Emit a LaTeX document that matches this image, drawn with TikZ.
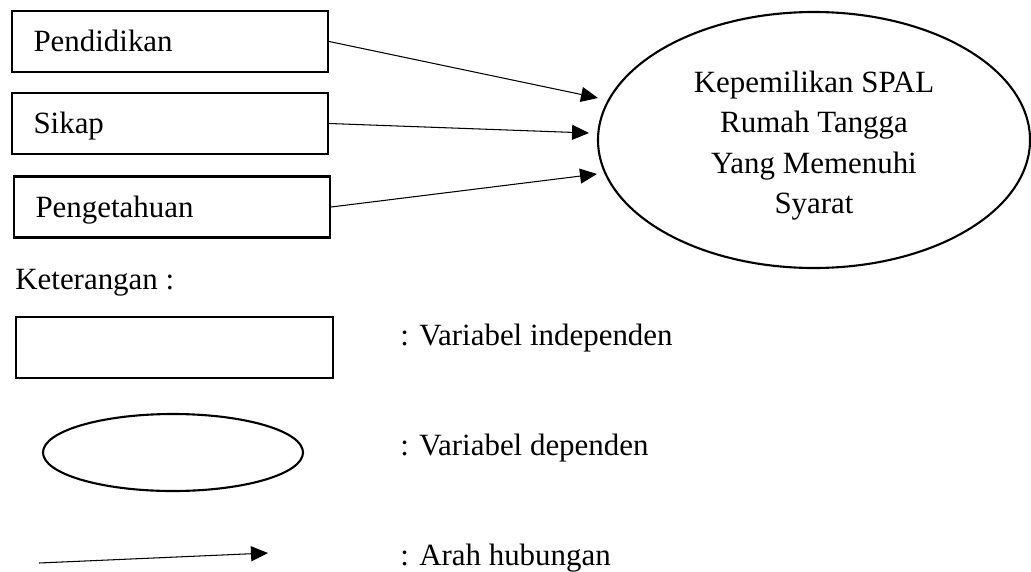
\documentclass[tikz,border=0pt]{standalone}
\usepackage{fontspec}
\setmainfont{Liberation Serif}
\usetikzlibrary{arrows.meta,shapes.geometric}

\begin{document}
\begin{tikzpicture}[
  font=\fontsize{17.6}{22.8}\selectfont,
  varbox/.style={draw,line width=1.3pt,rectangle,minimum width=6.32cm,minimum height=1.22cm,
    inner xsep=0.43cm,text width=5.46cm,align=left,text height=0.45cm,text depth=0.05cm},
  depell/.style={draw,line width=1.2pt,ellipse,inner sep=0pt,align=center},
  hub/.style={-{Triangle[length=0.34cm,width=0.3cm]},line width=0.6pt},
  ket/.style={anchor=base west,inner sep=0pt}]

  \useasboundingbox (0,0) rectangle (20.62,11.42);

  \node[varbox] (pend) at (3.40,10.59) {Pendidikan};
  \node[varbox] (sikap) at (3.40,8.95) {Sikap};
  \node[varbox] (peng) at (3.44,7.28) {Pengetahuan};

  \node[depell,minimum width=8.64cm,minimum height=5.12cm] (spal) at (16.28,8.62)
    {\raisebox{-0.1cm}[\height][\depth]{\begin{tabular}{@{}c@{}}Kepemilikan SPAL\\Rumah Tangga\\Yang Memenuhi\\Syarat\end{tabular}}};

  \coordinate (t1) at (11.96,9.46);
  \coordinate (t2) at (11.78,8.76);
  \coordinate (t3) at (11.94,7.94);

  \draw[hub] (pend.east) -- (t1);
  \draw[hub] (sikap.east) -- (t2);
  \draw[hub] (peng.east) -- (t3);

  % keterangan
  \node[ket] (ket) at (0.30,5.64) {Keterangan :};

  \node[varbox,minimum width=6.34cm] (lbox) at (3.49,4.47) {};
  \node[depell,minimum width=5.2cm,minimum height=1.54cm] (lell) at (3.46,2.37) {};
  \coordinate (la) at (0.78,0.16);
  \coordinate (lb) at (5.36,0.36);
  \draw[hub] (la) -- (lb);

  \node[ket] (kbox) at (8.0,4.52) {: Variabel independen};
  \node[ket] (kell) at (8.0,2.32) {: Variabel dependen};
  \node[ket] (karr) at (8.0,0.12) {: Arah hubungan};

\end{tikzpicture}
\end{document}
